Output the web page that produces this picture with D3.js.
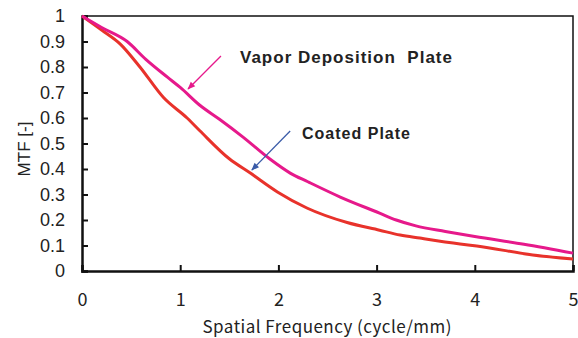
<!DOCTYPE html>
<html>
<head>
<meta charset="utf-8">
<script src="https://cdn.jsdelivr.net/npm/d3@7"></script>
<style>
  body { margin: 0; background: #fff; }
  svg { display: block; }
</style>
</head>
<body>
<svg id="mtf" width="578" height="338"></svg>
<script>
(function() {
    var width = 578, height = 338

    // spatial frequency (cycle/mm) and MTF
    const vaporFreq = [0, 0.2, 0.46, 0.65, 0.87, 1.0, 1.2, 1.4, 1.64, 1.91, 2.12, 2.3, 2.63, 3.03, 3.2, 3.4, 3.7, 4.0, 4.5, 5.0];
    const vaporMtf  = [1, 0.955, 0.90, 0.83, 0.76, 0.72, 0.65, 0.595, 0.525, 0.44, 0.384, 0.35, 0.29, 0.227, 0.20, 0.177, 0.155, 0.135, 0.105, 0.07];
    const coatedFreq = [0, 0.2, 0.39, 0.59, 0.83, 1.07, 1.2, 1.5, 1.71, 1.99, 2.29, 2.7, 3.03, 3.24, 3.44, 3.85, 4.02, 4.59, 5.0];
    const coatedMtf  = [1, 0.945, 0.89, 0.80, 0.68, 0.60, 0.55, 0.44, 0.385, 0.31, 0.247, 0.19, 0.16, 0.141, 0.129, 0.106, 0.098, 0.063, 0.047];
    const xTicks = [0, 1, 2, 3, 4, 5];
    const yTicks = [0, 0.1, 0.2, 0.3, 0.4, 0.5, 0.6, 0.7, 0.8, 0.9, 1];

    const svg = d3.select("#mtf");

    let x = d3.scaleLinear().domain([0, 5]).range([82, 573]);
    let y = d3.scaleLinear().domain([0, 1]).range([271, 16]);

    // frame (top + right)
    svg.append("path")
    .attr("d", `M${x(0)},${y(1)}H${x(5)}V${y(0)}`)
    .attr("fill", "none")
    .attr("stroke", "#111")
    .attr("stroke-width", 1.5);

    let xAxis = svg.append("g")
    .attr("transform", `translate(0,${y(0)})`)
    .call(d3.axisBottom(x).tickValues(xTicks).tickSize(-6).tickPadding(22).tickFormat(d3.format("d")));

    let yAxis = svg.append("g")
    .attr("transform", `translate(${x(0)},0)`)
    .call(d3.axisLeft(y).tickValues(yTicks).tickSize(-6).tickPadding(17).tickFormat(d => d == 0 || d == 1 ? d : d3.format(".1f")(d)));

    xAxis.select(".domain").attr("stroke", "#111").attr("stroke-width", 2.5);
    yAxis.select(".domain").attr("stroke", "#111").attr("stroke-width", 2.5);
    svg.selectAll(".tick line").attr("stroke", "#111").attr("stroke-width", 2);
    xAxis.selectAll(".tick text")
    .attr("font-family", "'Noto Sans CJK JP', sans-serif")
    .attr("font-size", 18)
    .attr("fill", "#222");
    yAxis.selectAll(".tick text")
    .attr("font-family", "'Liberation Sans', Arial, sans-serif")
    .attr("font-size", 18)
    .attr("fill", "#222");

    let line = d3.line()
    .x(d => x(d[0]))
    .y(d => y(d[1]))
    .curve(d3.curveMonotoneX);

    svg.append("path")
    .datum(coatedFreq.map((f, i) => [f, coatedMtf[i]]))
    .attr("d", line)
    .attr("fill", "none")
    .attr("stroke", "#e8322b")
    .attr("stroke-width", 3);

    svg.append("path")
    .datum(vaporFreq.map((f, i) => [f, vaporMtf[i]]))
    .attr("d", line)
    .attr("fill", "none")
    .attr("stroke", "#e6198b")
    .attr("stroke-width", 3);

    // annotation arrows
    const defs = svg.append("defs");
    function marker(id, color) {
        defs.append("marker")
        .attr("id", id)
        .attr("viewBox", "0 0 10 10")
        .attr("refX", 9).attr("refY", 5)
        .attr("markerWidth", 7).attr("markerHeight", 6)
        .attr("orient", "auto")
        .append("path")
        .attr("d", "M0,1L10,5L0,9Z")
        .attr("fill", color);
    }
    marker("headPink", "#e6198b");
    marker("headBlue", "#3b5ca8");

    svg.append("line")
    .attr("x1", x(1.415)).attr("y1", y(0.843))
    .attr("x2", x(1.08)).attr("y2", y(0.714))
    .attr("stroke", "#e6198b").attr("stroke-width", 1.3)
    .attr("marker-end", "url(#headPink)");

    svg.append("line")
    .attr("x1", x(2.12)).attr("y1", y(0.549))
    .attr("x2", x(1.73)).attr("y2", y(0.396))
    .attr("stroke", "#3b5ca8").attr("stroke-width", 1.3)
    .attr("marker-end", "url(#headBlue)");

    svg.append("text")
    .attr("x", 240).attr("y", 63)
    .attr("font-family", "'Liberation Sans', Arial, sans-serif")
    .attr("font-weight", "bold")
    .attr("font-size", 17)
    .attr("fill", "#222")
    .attr("xml:space", "preserve")
    .attr("textLength", 212)
    .text("Vapor Deposition  Plate");

    svg.append("text")
    .attr("x", 302).attr("y", 139)
    .attr("font-family", "'Liberation Sans', Arial, sans-serif")
    .attr("font-weight", "bold")
    .attr("font-size", 16)
    .attr("fill", "#222")
    .attr("textLength", 108)
    .text("Coated Plate");

    svg.append("text")
    .attr("x", 327).attr("y", 333)
    .attr("text-anchor", "middle")
    .attr("font-family", "'Noto Sans CJK JP', sans-serif")
    .attr("font-size", 17)
    .attr("fill", "#222")
    .attr("textLength", 249)
    .text("Spatial Frequency (cycle/mm)");

    svg.append("text")
    .attr("transform", "translate(30,149) rotate(-90)")
    .attr("text-anchor", "middle")
    .attr("font-family", "'Liberation Sans', Arial, sans-serif")
    .attr("font-size", 17)
    .attr("fill", "#222")
    .text("MTF [-]");
})()
</script>
</body>
</html>
